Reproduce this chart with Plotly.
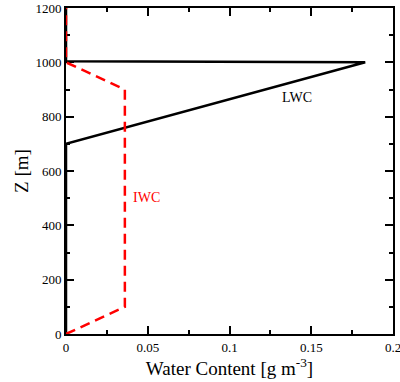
import plotly.graph_objects as go

# LWC profile
lwc_x = [0.0, 0.0, 0.183, 0.0, 0.0]
lwc_z = [0, 700, 1000, 1004, 1200]
# IWC profile
iwc_x = [0.0, 0.036, 0.036, 0.0, 0.0]
iwc_z = [0, 100, 900, 1000, 1200]

x_ticks = [0, 0.05, 0.1, 0.15, 0.2]
x_labels = ["0", "0.05", "0.1", "0.15", "0.2"]
y_ticks = [0, 200, 400, 600, 800, 1000, 1200]

fig = go.Figure()
fig.add_trace(go.Scatter(x=lwc_x, y=lwc_z, mode="lines",
                         line=dict(color="black", width=2.5), showlegend=False))
fig.add_trace(go.Scatter(x=iwc_x, y=iwc_z, mode="lines",
                         line=dict(color="#ff0000", width=2.5, dash="10px,6px"), showlegend=False))

fig.add_annotation(x=0.141, y=870, text="LWC", showarrow=False,
                   font=dict(family="Liberation Serif", size=14, color="black"))
fig.add_annotation(x=0.0495, y=502, text="IWC", showarrow=False,
                   font=dict(family="Liberation Serif", size=14, color="#ff0000"))

axis_common = dict(showgrid=False, zeroline=False, showline=True, linecolor="black",
                   linewidth=2, mirror="allticks", ticks="inside", ticklen=8,
                   tickwidth=1.5, tickcolor="black", layer="below traces",
                   automargin=False, ticklabeloverflow="allow",
                   tickfont=dict(family="Liberation Serif", size=13, color="black"))

fig.update_xaxes(range=[0, 0.2], tickvals=x_ticks, ticktext=x_labels,
                 title=dict(text="Water Content [g m<sup>-3</sup>]", standoff=3,
                            font=dict(family="Liberation Serif", size=19, color="black")),
                 minor=dict(dtick=0.025, ticks="inside", ticklen=4, tickwidth=1.5, tickcolor="black"),
                 **axis_common)
fig.update_yaxes(range=[0, 1200], tickvals=y_ticks,
                 title=dict(text="Z [m]", standoff=2,
                            font=dict(family="Liberation Serif", size=19, color="black")),
                 minor=dict(dtick=100, ticks="inside", ticklen=4, tickwidth=1.5, tickcolor="black"),
                 **axis_common)

fig.update_layout(width=400, height=382, margin=dict(l=66, r=7, t=8, b=48),
                  paper_bgcolor="white", plot_bgcolor="white")

fig.write_html("out.html")
